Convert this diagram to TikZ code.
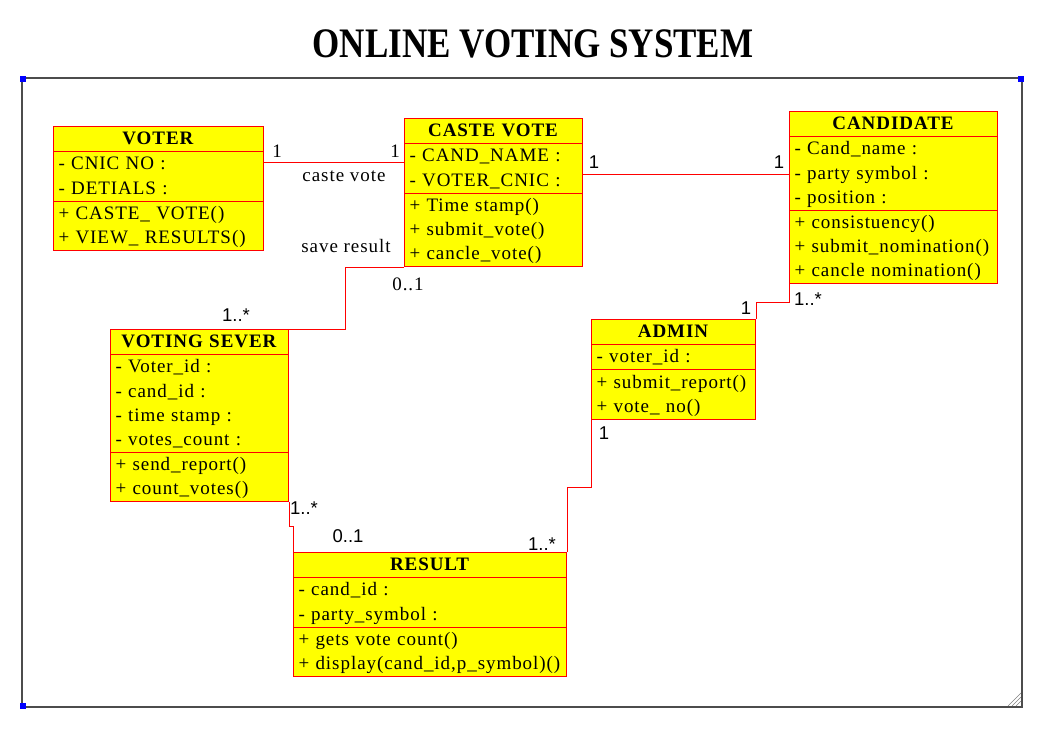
\documentclass[tikz,border=0pt]{standalone}
\usepackage{fontspec}
\setmainfont{Liberation Serif}
\setsansfont{Liberation Sans}
\usetikzlibrary{shapes.multipart,calc}
\definecolor{umlRed}{RGB}{255,0,0}
\definecolor{umlYellow}{RGB}{255,255,0}
\definecolor{cornerBlue}{RGB}{0,0,255}
\newcommand{\row}{\rule[-6.5pt]{0pt}{24.2pt}}
\newcommand{\classname}[1]{\makebox[\linewidth]{\textbf{#1}}}

\begin{document}
\begin{tikzpicture}[x=1pt,y=-1pt,
  umlclass/.style={draw=umlRed,fill=umlYellow,line width=1pt,rectangle split,rectangle split parts=3,
    inner xsep=5pt,inner ysep=0pt,anchor=north west,align=left,
    font=\fontsize{19}{24.2}\selectfont\addfontfeature{LetterSpace=5}},
  assoc/.style={draw=umlRed,line width=1pt},
  mult/.style={font=\fontsize{18.5}{20}\sffamily,inner sep=0pt},
  role/.style={font=\fontsize{19}{22}\selectfont\addfontfeature{LetterSpace=5},inner sep=0pt}]
\useasboundingbox (0,0) rectangle (1043,744);

% frame
\draw[gray!60!black,line width=1.2pt] (22,78) rectangle (1022,707);
\fill[cornerBlue] (20,76) rectangle ++(6,6);
\fill[cornerBlue] (1018,76) rectangle ++(6,6);
\fill[cornerBlue] (20,703) rectangle ++(6,6);
\draw[gray] (1008,706) -- (1021,693) (1012,706) -- (1021,697) (1016,706) -- (1021,701);

\node[font=\fontsize{35}{40}\selectfont\bfseries] (title) at (533,44)
  {\scalebox{1}[1.2]{ONLINE VOTING SYSTEM}};

\node[umlclass,text width=200pt] (voter) at (53,126)
  {\classname{VOTER}\row
   \nodepart{two}- CNIC NO :\row\\- DETIALS :\row
   \nodepart{three}+ CASTE\_ VOTE()\row\\+ VIEW\_ RESULTS()\row};
\node[umlclass,text width=168pt] (caste) at (404,118)
  {\classname{CASTE VOTE}\row
   \nodepart{two}- CAND\_NAME :\row\\- VOTER\_CNIC :\row
   \nodepart{three}+ Time stamp()\row\\+ submit\_vote()\row\\+ cancle\_vote()\row};
\node[umlclass,text width=198pt] (cand) at (789,111)
  {\classname{CANDIDATE}\row
   \nodepart{two}- Cand\_name :\row\\- party symbol :\row\\- position :\row
   \nodepart{three}+ consistuency()\row\\+ submit\_nomination()\row\\+ cancle nomination()\row};
\node[umlclass,text width=168pt] (sever) at (110,329)
  {\classname{VOTING SEVER}\row
   \nodepart{two}- Voter\_id :\row\\- cand\_id :\row\\- time stamp :\row\\- votes\_count :\row
   \nodepart{three}+ send\_report()\row\\+ count\_votes()\row};
\node[umlclass,text width=154pt] (admin) at (591,319)
  {\classname{ADMIN}\row
   \nodepart{two}- voter\_id :\row
   \nodepart{three}+ submit\_report()\row\\+ vote\_ no()\row};
\node[umlclass,text width=263pt] (result) at (293,552)
  {\classname{RESULT}\row
   \nodepart{two}- cand\_id :\row\\- party\_symbol :\row
   \nodepart{three}+ gets vote count()\row\\+ display(cand\_id,p\_symbol)()\row};

\coordinate (v1) at ([yshift=-36pt]voter.north east);
\coordinate (c1) at ([yshift=-56pt]caste.north east);
\draw[assoc] (v1) -- (v1 -| caste.west);
\draw[assoc] (c1) -- (c1 -| cand.west);
\draw[assoc] (caste.south west) -- ++(-59,0) |- (sever.north east);
\draw[assoc] (sever.south east) -- ++(0,24) -| (result.north west);
\draw[assoc] (admin.south west) -- ++(0,68) -| (result.north east);
\draw[assoc] (admin.north east) -- ++(0,-17) -| (cand.south west);

\node[role] (m1) at (277,151) {1};
\node[role] (m2) at (395,151) {1};
\node[role] (lcaste) at (344,176) {caste vote};
\node[role] (lsave) at (346,246) {save result};
\node[role] (m3) at (408,284) {0..1};
\node[mult] (m4) at (594,162) {1};
\node[mult] (m5) at (779,162) {1};
\node[mult] (m6) at (236,315) {1..*};
\node[mult] (m7) at (304,508) {1..*};
\node[mult] (m8) at (348,536) {0..1};
\node[mult] (m9) at (542,544) {1..*};
\node[mult] (m10) at (604,433) {1};
\node[mult] (m11) at (746,308) {1};
\node[mult] (m12) at (808,299) {1..*};
\end{tikzpicture}
\end{document}
